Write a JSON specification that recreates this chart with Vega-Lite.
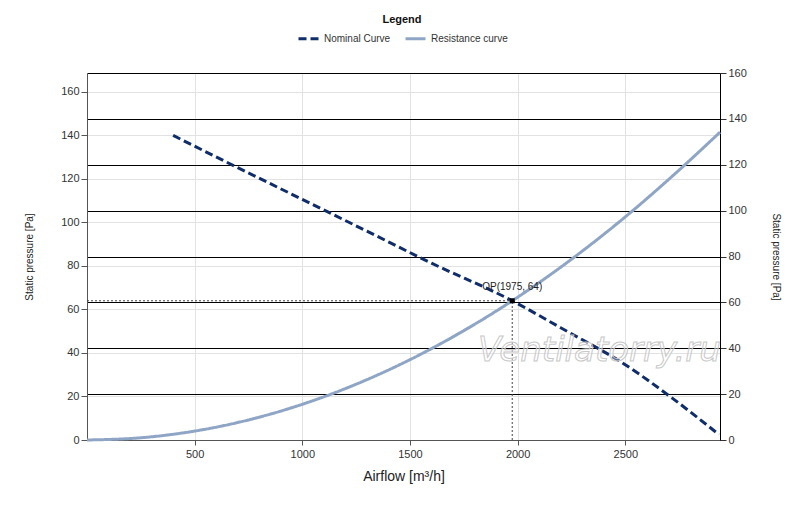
{
  "$schema": "https://vega.github.io/schema/vega-lite/v6.json",
  "width": 633,
  "height": 367,
  "autosize": {"type": "none"},
  "padding": {"left": 87, "top": 73, "right": 80, "bottom": 67},
  "background": "white",
  "config": {
    "font": "Liberation Sans",
    "view": {"stroke": null},
    "axis": {"labelFont": "Liberation Sans", "titleFont": "Liberation Sans", "labelColor": "#333333", "titleColor": "#222222", "titleFontWeight": "normal"}
  },
  "datasets": {
    "curves": [
      {"curve": "Nominal Curve", "q": 400, "p": 140},
      {"curve": "Nominal Curve", "q": 700, "p": 125.2},
      {"curve": "Nominal Curve", "q": 1000, "p": 110.6},
      {"curve": "Nominal Curve", "q": 1300, "p": 96},
      {"curve": "Nominal Curve", "q": 1600, "p": 81.3},
      {"curve": "Nominal Curve", "q": 1975, "p": 64},
      {"curve": "Nominal Curve", "q": 2200, "p": 51.6},
      {"curve": "Nominal Curve", "q": 2500, "p": 34.6},
      {"curve": "Nominal Curve", "q": 2700, "p": 20.6},
      {"curve": "Nominal Curve", "q": 2935, "p": 2.5},
      {"curve": "Resistance curve", "q": 0, "p": 0},
      {"curve": "Resistance curve", "q": 250, "p": 1.03},
      {"curve": "Resistance curve", "q": 500, "p": 4.1},
      {"curve": "Resistance curve", "q": 750, "p": 9.23},
      {"curve": "Resistance curve", "q": 1000, "p": 16.41},
      {"curve": "Resistance curve", "q": 1250, "p": 25.64},
      {"curve": "Resistance curve", "q": 1500, "p": 36.92},
      {"curve": "Resistance curve", "q": 1750, "p": 50.25},
      {"curve": "Resistance curve", "q": 1975, "p": 64},
      {"curve": "Resistance curve", "q": 2250, "p": 83.07},
      {"curve": "Resistance curve", "q": 2500, "p": 102.55},
      {"curve": "Resistance curve", "q": 2750, "p": 124.08},
      {"curve": "Resistance curve", "q": 2940, "p": 141.5}
    ],
    "op": [
      {"q": 1975, "p": 64, "q0": 0, "p0": 0, "label": "OP(1975, 64)"}
    ],
    "watermark": [
      {"q": 2380, "p": 41, "label": "Ventilatorry.ru"}
    ],
    "right": [
      {"r": 0},
      {"r": 160}
    ]
  },
  "layer": [
    {
      "layer": [
        {
          "data": {"name": "op"},
          "mark": {"type": "rule", "color": "#444444", "strokeDash": [2, 2], "strokeWidth": 1},
          "encoding": {
            "x": {"field": "q0", "type": "quantitative"},
            "x2": {"field": "q"},
            "y": {"field": "p", "type": "quantitative"}
          }
        },
        {
          "data": {"name": "op"},
          "mark": {"type": "rule", "color": "#444444", "strokeDash": [2, 2], "strokeWidth": 1},
          "encoding": {
            "x": {"field": "q", "type": "quantitative"},
            "y": {"field": "p0", "type": "quantitative"},
            "y2": {"field": "p"}
          }
        },
        {
          "data": {"name": "curves"},
          "mark": {"type": "line", "strokeWidth": 3, "interpolate": "monotone"},
          "encoding": {
            "x": {
              "field": "q",
              "type": "quantitative",
              "scale": {"domain": [0, 2940], "nice": false},
              "axis": {
                "title": "Airflow [m³/h]",
                "titleFontSize": 14,
                "titlePadding": 10,
                "values": [500, 1000, 1500, 2000, 2500],
                "format": "d",
                "labelFontSize": 11,
                "grid": true,
                "gridColor": "#e2e2e2",
                "domainColor": "#555555",
                "tickColor": "#555555",
                "tickSize": 5,
                "labelPadding": 3
              }
            },
            "y": {
              "field": "p",
              "type": "quantitative",
              "scale": {"domain": [0, 168.7], "nice": false},
              "axis": {
                "title": "Static pressure [Pa]",
                "titleFontSize": 10,
                "titlePadding": 26,
                "values": [0, 20, 40, 60, 80, 100, 120, 140, 160],
                "labelFontSize": 11,
                "grid": true,
                "gridColor": "#e2e2e2",
                "domainColor": "#555555",
                "tickColor": "#555555",
                "tickSize": 6,
                "labelPadding": 2
              }
            },
            "color": {
              "field": "curve",
              "type": "nominal",
              "scale": {"domain": ["Nominal Curve", "Resistance curve"], "range": ["#0f2d6b", "#8ea5c6"]},
              "legend": {
                "title": "Legend",
                "orient": "none",
                "direction": "horizontal",
                "legendX": 210,
                "legendY": -59,
                "titleAnchor": "middle",
                "titleFontSize": 11,
                "titleFontWeight": "bold",
                "titleColor": "#111111",
                "titlePadding": 2,
                "labelFontSize": 10,
                "labelColor": "#333333",
                "symbolType": "stroke",
                "symbolSize": 400,
                "symbolStrokeWidth": 3,
                "columnPadding": 8
              }
            },
            "strokeDash": {
              "field": "curve",
              "type": "nominal",
              "scale": {"domain": ["Nominal Curve", "Resistance curve"], "range": [[8, 4], [1, 0]]},
              "legend": null
            }
          }
        },
        {
          "data": {"name": "op"},
          "mark": {"type": "square", "size": 25, "color": "#000000", "opacity": 1},
          "encoding": {
            "x": {"field": "q", "type": "quantitative"},
            "y": {"field": "p", "type": "quantitative"}
          }
        },
        {
          "data": {"name": "op"},
          "mark": {"type": "text", "fontSize": 10, "color": "#222222", "dy": -9, "baseline": "bottom", "align": "center"},
          "encoding": {
            "x": {"field": "q", "type": "quantitative"},
            "y": {"field": "p", "type": "quantitative"},
            "text": {"field": "label"}
          }
        },
        {
          "data": {"name": "watermark"},
          "mark": {"type": "text", "font": "DejaVu Sans", "fontSize": 34, "fontStyle": "italic", "fill": "#ffffff", "fillOpacity": 0.35, "stroke": "#c8c8c8", "strokeWidth": 1, "align": "center", "baseline": "middle"},
          "encoding": {
            "x": {"field": "q", "type": "quantitative"},
            "y": {"field": "p", "type": "quantitative"},
            "text": {"field": "label"}
          }
        }
      ]
    },
    {
      "data": {"name": "right"},
      "mark": {"type": "rule", "opacity": 0},
      "encoding": {
        "y": {
          "field": "r",
          "type": "quantitative",
          "scale": {"domain": [0, 160], "nice": false},
          "axis": {
            "orient": "right",
            "title": "Static pressure [Pa]",
            "titleAngle": 90,
            "titleFontSize": 10,
            "titlePadding": 24,
            "values": [0, 20, 40, 60, 80, 100, 120, 140, 160],
            "labelFontSize": 11,
            "grid": true,
            "gridColor": "#000000",
            "gridWidth": 1,
            "domainColor": "#000000",
            "tickColor": "#333333",
            "tickSize": 6,
            "labelPadding": 2
          }
        }
      }
    }
  ],
  "resolve": {"scale": {"y": "independent"}, "axis": {"y": "independent"}}
}
